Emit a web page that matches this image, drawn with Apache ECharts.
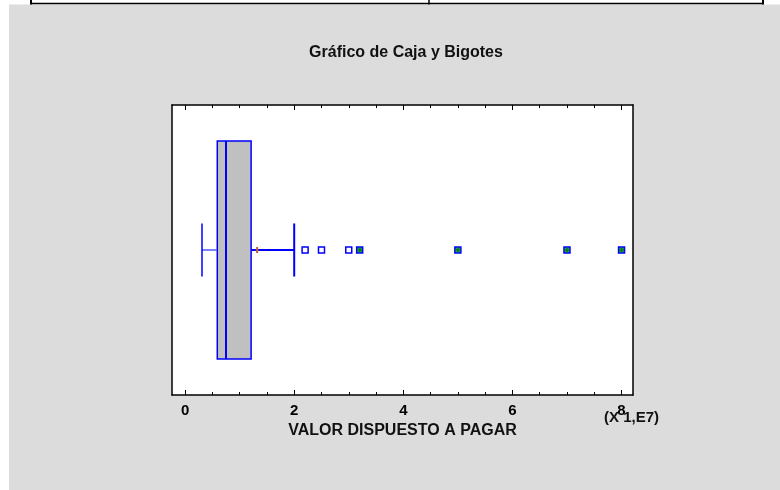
<!DOCTYPE html>
<html>
<head>
<meta charset="utf-8">
<script src="https://cdn.jsdelivr.net/npm/echarts@6/dist/echarts.min.js"></script>
<style>
html,body{margin:0;padding:0;background:#fff;}
#chart{width:780px;height:490px;}
</style>
</head>
<body>
<div id="chart"></div>
<script>
// ---- data ----
const chartTitle = 'Gráfico de Caja y Bigotes';
const variableName = 'VALOR DISPUESTO A PAGAR';
const scaleNote = '(X 1,E7)';
// [lower whisker, Q1, median, Q3, upper whisker]
const boxStats = [0.31, 0.59, 0.75, 1.21, 2.0];
const meanValue = 1.32;
const nearOutliers = [2.2, 2.5, 3.0];
const farOutliers = [3.2, 5.0, 7.0, 8.0];
const tickValues = [0, 2, 4, 6, 8];
const tickLabels = ['0', '2', '4', '6', '8'];
const minorTickValues = [0, 0.5, 1, 1.5, 2, 2.5, 3, 3.5, 4, 4.5, 5, 5.5, 6, 6.5, 7, 7.5, 8];
const axisMin = -0.24;
const axisMax = 8.21;

const BLUE = '#0000ff';
const FONT = '"Liberation Sans", Arial, sans-serif';

const chart = echarts.init(document.getElementById('chart'), null, {renderer: 'canvas'});

function renderBox(params, api) {
  const lw = api.value(0), q1 = api.value(1), md = api.value(2), q3 = api.value(3), hw = api.value(4), mn = api.value(5);
  const yc = 0.5;
  const pLW = api.coord([lw, yc]);
  const pQ1 = api.coord([q1, yc]);
  const pMD = api.coord([md, yc]);
  const pQ3 = api.coord([q3, yc]);
  const pHW = api.coord([hw, yc]);
  const pMN = api.coord([mn, yc]);
  const halfH = api.size([0, 0.752])[1] / 2;
  const capH = api.size([0, 0.183])[1] / 2;
  const cy = pMD[1];
  return {
    type: 'group',
    children: [
      {type: 'rect', shape: {x: pQ1[0], y: cy - halfH, width: pQ3[0] - pQ1[0], height: 2 * halfH},
        style: {fill: '#c0c0c0', stroke: BLUE, lineWidth: 1.5}},
      {type: 'line', shape: {x1: pMD[0], y1: cy - halfH, x2: pMD[0], y2: cy + halfH},
        style: {stroke: BLUE, lineWidth: 2}},
      {type: 'line', shape: {x1: pLW[0], y1: cy, x2: pQ1[0], y2: cy},
        style: {stroke: '#4a5aff', lineWidth: 1.5}},
      {type: 'line', shape: {x1: pLW[0], y1: cy - capH, x2: pLW[0], y2: cy + capH},
        style: {stroke: BLUE, lineWidth: 1.5}},
      {type: 'line', shape: {x1: pQ3[0], y1: cy, x2: pHW[0], y2: cy},
        style: {stroke: BLUE, lineWidth: 2}},
      {type: 'line', shape: {x1: pHW[0], y1: cy - capH, x2: pHW[0], y2: cy + capH},
        style: {stroke: BLUE, lineWidth: 2}},
      {type: 'line', shape: {x1: pMN[0], y1: cy - 3, x2: pMN[0], y2: cy + 3},
        style: {stroke: '#c0603a', lineWidth: 2}},
      {type: 'line', shape: {x1: pMN[0] - 1.5, y1: cy, x2: pMN[0] + 1.5, y2: cy},
        style: {stroke: '#c0603a', lineWidth: 1}}
    ]
  };
}

const labelFmt = v => {
  const i = tickValues.indexOf(v);
  return i >= 0 ? tickLabels[i] : '';
};

function xAx(pos, customTicks, len, showLine, showLabels) {
  return {
    type: 'value', position: pos, min: axisMin, max: axisMax,
    splitLine: {show: false},
    axisLine: {show: showLine, onZero: false, lineStyle: {color: '#000', width: 1.5}},
    axisTick: {show: true, inside: true, length: len, customValues: customTicks, lineStyle: {color: '#000', width: 1}},
    axisLabel: {show: showLabels, customValues: tickValues, formatter: labelFmt, margin: 8,
      color: '#000', fontWeight: 'bold', fontSize: 15, fontFamily: FONT},
    name: showLabels ? variableName : '',
    nameLocation: 'middle', nameGap: 27,
    nameTextStyle: {color: '#111', fontWeight: 'bold', fontSize: 16, fontFamily: FONT}
  };
}

function yAx(pos) {
  return {
    type: 'value', min: 0, max: 1, position: pos, splitLine: {show: false},
    axisLine: {show: true, onZero: false, lineStyle: {color: '#000', width: 1.5}},
    axisTick: {show: false}, axisLabel: {show: false}
  };
}

const option = {
  backgroundColor: '#ffffff',
  animation: false,
  title: {
    text: chartTitle, left: 401, top: 40, textAlign: 'center',
    textStyle: {color: '#111', fontWeight: 'bold', fontSize: 16, fontFamily: FONT}
  },
  graphic: [
    {type: 'rect', z: -10, silent: true, shape: {x: 9, y: 4.5, width: 771, height: 486}, style: {fill: '#dcdcdc'}},
    {type: 'line', silent: true, shape: {x1: 31, y1: 3.5, x2: 763, y2: 3.5}, style: {stroke: '#000', lineWidth: 1.5}},
    {type: 'line', silent: true, shape: {x1: 31, y1: 0, x2: 31, y2: 4.5}, style: {stroke: '#000', lineWidth: 2}},
    {type: 'line', silent: true, shape: {x1: 429, y1: 0, x2: 429, y2: 4.5}, style: {stroke: '#000', lineWidth: 1.5}},
    {type: 'line', silent: true, shape: {x1: 763, y1: 0, x2: 763, y2: 4.5}, style: {stroke: '#000', lineWidth: 2}},
    {type: 'text', silent: true, left: 604, top: 410,
      style: {text: scaleNote, fill: '#111', font: 'bold 15px ' + FONT}}
  ],
  grid: {left: 172, right: 147, top: 105, bottom: 95, show: true, backgroundColor: '#ffffff', borderWidth: 0},
  xAxis: [
    xAx('bottom', tickValues, 5, true, true),
    xAx('bottom', minorTickValues, 3, false, false),
    xAx('top', tickValues, 5, true, false),
    xAx('top', minorTickValues, 3, false, false)
  ],
  yAxis: [yAx('left'), yAx('right')],
  series: [
    {
      type: 'custom', xAxisIndex: 0, yAxisIndex: 0,
      renderItem: renderBox,
      encode: {x: [0, 1, 2, 3, 4, 5]},
      data: [[...boxStats, meanValue]],
      clip: false, z: 2
    },
    {
      type: 'scatter', xAxisIndex: 0, yAxisIndex: 0,
      symbol: 'rect', symbolSize: 6,
      itemStyle: {color: '#ffffff', borderColor: BLUE, borderWidth: 1.5, opacity: 1},
      data: nearOutliers.map(v => [v, 0.5]), z: 3
    },
    {
      type: 'scatter', xAxisIndex: 0, yAxisIndex: 0,
      symbol: 'rect', symbolSize: 6,
      itemStyle: {color: '#3a8a8a', borderColor: BLUE, borderWidth: 1.5, opacity: 1},
      data: farOutliers.map(v => [v, 0.5]), z: 3
    },
    {
      type: 'scatter', xAxisIndex: 0, yAxisIndex: 0,
      symbol: 'path://M2,0H4V2H6V4H4V6H2V4H0V2H2Z', symbolSize: 5,
      itemStyle: {color: '#008a00', opacity: 1},
      data: farOutliers.map(v => [v, 0.5]), z: 4
    }
  ]
};
chart.setOption(option);
</script>
</body>
</html>
